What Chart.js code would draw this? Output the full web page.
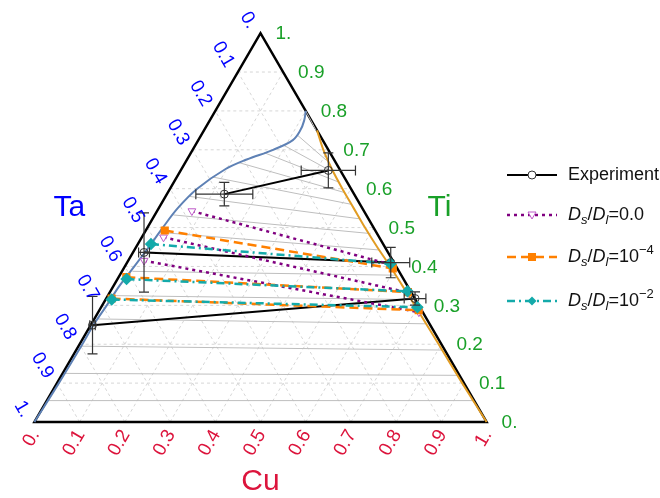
<!DOCTYPE html>
<html>
<head>
<meta charset="utf-8">
<script src="https://cdn.jsdelivr.net/npm/chart.js@4.4.1/dist/chart.umd.min.js"></script>
<style>
  body { margin: 0; background: #fff; }
  #wrap { width: 660px; height: 498px; position: relative; }
</style>
</head>
<body>
<div id="wrap"><canvas id="tern"></canvas></div>
<script>
/*_____________________DATA (fractions, Ta = 1 - Cu - Ti)____________________*/

const tickVals = [0, 0.1, 0.2, 0.3, 0.4, 0.5, 0.6, 0.7, 0.8, 0.9, 1];
const tickText = ['0.', '0.1', '0.2', '0.3', '0.4', '0.5', '0.6', '0.7', '0.8', '0.9', '1.'];

// blue curve (liquid side)
const liqTi = [0, 0.1, 0.2, 0.25, 0.3, 0.35, 0.4, 0.45, 0.5, 0.55, 0.6, 0.65, 0.675, 0.7, 0.725, 0.75, 0.775, 0.8];
const liqCu = [0, 0.004, 0.006, 0.006, 0.010, 0.013, 0.021, 0.028, 0.034, 0.042, 0.060, 0.097, 0.132, 0.178, 0.209, 0.213, 0.209, 0.200];

// orange curve (solid side)
const solTi = [0.75, 0.7, 0.65, 0.6, 0.55, 0.5, 0.45, 0.4, 0.35, 0.3, 0.2, 0.1, 0];
const solCu = [0.25, 0.289, 0.333, 0.381, 0.431, 0.481, 0.533, 0.587, 0.639, 0.691, 0.794, 0.896, 1];

// gray tie-lines, left end on liquid curve, right end on solid curve
const tieLTi = [0.8, 0.7375, 0.71, 0.6925, 0.6675, 0.63, 0.58, 0.5325, 0.4875, 0.4375, 0.3875, 0.325, 0.265, 0.195, 0.125, 0.055];
const tieLCu = [0.2, 0.213, 0.199, 0.162, 0.117, 0.079, 0.054, 0.041, 0.035, 0.028, 0.023, 0.011, 0.006, 0.006, 0.005, 0.003];
const tieRTi = [0.75, 0.6725, 0.6425, 0.6175, 0.59, 0.56, 0.5225, 0.485, 0.4425, 0.4125, 0.3775, 0.315, 0.2525, 0.185, 0.12, 0.055];
const tieRCu = [0.248, 0.31, 0.339, 0.363, 0.391, 0.42, 0.458, 0.497, 0.54, 0.572, 0.61, 0.674, 0.739, 0.809, 0.876, 0.943];

// experiment tie-lines + error bars
const expLTi = [0.586, 0.436, 0.249];
const expLCu = [0.127, 0.0244, 0.004];
const expRTi = [0.647, 0.41, 0.3175];
const expRCu = [0.3265, 0.583, 0.683];
const expLErrCu = [0.063, 0.012, 0.006];
const expLErrTi = [0.03, 0.102, 0.074];
const expRErrCu = [0.06, 0.042, 0.024];
const expRErrTi = [0.045, 0.039, 0.017];

// Ds/Dl = 0.0
const d0LTi = [0.5425, 0.475, 0.415];
const d0LCu = [0.077, 0.048, 0.035];
const d0RTi = [0.405, 0.3325, 0.2825];
const d0RCu = [0.585, 0.661, 0.709];

// Ds/Dl = 1e-4
const d4LTi = [0.4925, 0.3725, 0.3175];
const d4LCu = [0.042, 0.017, 0.012];
const d4RTi = [0.395, 0.334, 0.2875];
const d4RCu = [0.595, 0.659, 0.706];

// Ds/Dl = 1e-2
const d2LTi = [0.4575, 0.3675, 0.315];
const d2LCu = [0.029, 0.020, 0.0135];
const d2RTi = [0.407, 0.336, 0.295];
const d2RCu = [0.584, 0.657, 0.6995];

/*_____________________HELPERS____________________*/

const R3 = Math.sqrt(3) / 2;
function pt(cu, ti) { return {x: cu + ti / 2, y: ti * R3}; }
function curve(cu, ti) { return ti.map((t, i) => pt(cu[i], t)); }
function pairs(lcu, lti, rcu, rti) {
  const out = [];
  lti.forEach((t, i) => { out.push(pt(lcu[i], t), pt(rcu[i], rti[i]), {x: null, y: null}); });
  return out;
}

const BLUE = 'rgb(94,129,181)', GOLD = 'rgb(225,156,36)';
const PURPLE = 'rgb(128,0,128)', PURPLE_M = 'rgb(190,90,200)';
const ORANGE = 'rgb(255,128,0)', TEAL = 'rgb(20,170,170)';
const CU_COL = 'rgb(220,20,60)', TI_COL = 'rgb(25,160,40)', TA_COL = 'rgb(0,0,255)';
const FONT = '"Liberation Sans", Arial, sans-serif';

/*_____________________PLUGIN: grid, edges, labels, legend____________________*/

const ternPlugin = {
  id: 'tern',
  beforeDatasetsDraw(chart) {
    const {ctx, scales: {x, y}} = chart;
    const P = (cu, ti) => { const p = pt(cu, ti); return [x.getPixelForValue(p.x), y.getPixelForValue(p.y)]; };
    const seg = (a, b) => { ctx.beginPath(); ctx.moveTo(a[0], a[1]); ctx.lineTo(b[0], b[1]); ctx.stroke(); };
    ctx.save();
    ctx.strokeStyle = '#d6d6d6';
    ctx.lineWidth = 1;
    ctx.setLineDash([3, 3]);
    tickVals.slice(1, -1).forEach(v => {
      seg(P(0, v), P(1 - v, v));      // Ti = v
      seg(P(v, 0), P(v, 1 - v));      // Cu = v
      seg(P(1 - v, 0), P(0, 1 - v));  // Ta = v
    });
    ctx.setLineDash([]);
    ctx.strokeStyle = '#000';
    ctx.lineWidth = 2.5;
    ctx.lineJoin = 'miter';
    const a = P(0, 0), b = P(1, 0), c = P(0, 1);
    ctx.beginPath(); ctx.moveTo(a[0], a[1]); ctx.lineTo(b[0], b[1]); ctx.lineTo(c[0], c[1]); ctx.closePath(); ctx.stroke();
    ctx.restore();
  },
  afterDatasetsDraw(chart) {
    const {ctx, scales: {x, y}} = chart;
    const P = (cu, ti) => { const p = pt(cu, ti); return [x.getPixelForValue(p.x), y.getPixelForValue(p.y)]; };
    const kx = x.getPixelForValue(1) - x.getPixelForValue(0);
    const ky = y.getPixelForValue(0) - y.getPixelForValue(R3);
    ctx.save();
    ctx.strokeStyle = '#333';
    ctx.lineWidth = 1.2;
    const bar = (cu, ti, ecu, eti) => {
      const [px, py] = P(cu, ti);
      const hx = ecu * kx, hy = eti * ky, cap = 5;
      ctx.beginPath();
      ctx.moveTo(px - hx, py); ctx.lineTo(px + hx, py);
      ctx.moveTo(px - hx, py - cap); ctx.lineTo(px - hx, py + cap);
      ctx.moveTo(px + hx, py - cap); ctx.lineTo(px + hx, py + cap);
      ctx.moveTo(px, py - hy); ctx.lineTo(px, py + hy);
      ctx.moveTo(px - cap, py - hy); ctx.lineTo(px + cap, py - hy);
      ctx.moveTo(px - cap, py + hy); ctx.lineTo(px + cap, py + hy);
      ctx.stroke();
    };
    expLTi.forEach((t, i) => bar(expLCu[i], t, expLErrCu[i], expLErrTi[i]));
    expRTi.forEach((t, i) => bar(expRCu[i], t, expRErrCu[i], expRErrTi[i]));
    ctx.restore();
  },
  afterDraw(chart) {
    const {ctx, scales: {x, y}} = chart;
    const P = (cu, ti) => { const p = pt(cu, ti); return [x.getPixelForValue(p.x), y.getPixelForValue(p.y)]; };
    ctx.save();
    ctx.font = '19px ' + FONT;
    ctx.textBaseline = 'middle';
    tickVals.forEach((v, i) => {
      // Cu along bottom
      let [px, py] = P(v, 0);
      ctx.save(); ctx.fillStyle = CU_COL; ctx.textAlign = 'right';
      ctx.translate(px + 1, py + 9.5); ctx.rotate(-Math.PI / 3);
      ctx.fillText(tickText[i], 0, 0); ctx.restore();
      // Ti along right edge
      [px, py] = P(1 - v, v);
      ctx.fillStyle = TI_COL; ctx.textAlign = 'left';
      ctx.fillText(tickText[i], px + 15, py + 1);
      // Ta along left edge
      [px, py] = P(0, 1 - v);
      ctx.save(); ctx.fillStyle = TA_COL; ctx.textAlign = 'right';
      ctx.translate(px - 8, py - 6); ctx.rotate(Math.PI / 3);
      ctx.fillText(tickText[i], 0, 0); ctx.restore();
    });
    // axis titles
    ctx.font = '30px ' + FONT;
    ctx.textAlign = 'center';
    let m = P(0, 0.5);
    ctx.fillStyle = TA_COL; ctx.fillText('Ta', m[0] - 78, m[1] - 20);
    m = P(0.5, 0.5);
    ctx.fillStyle = TI_COL; ctx.fillText('Ti', m[0] + 66, m[1] - 20);
    m = P(0.5, 0);
    ctx.fillStyle = CU_COL; ctx.fillText('Cu', m[0], m[1] + 60);

    // legend
    const lx0 = 507, lx1 = 557, lm = 532, tx = 568;
    const rows = [175, 215, 257, 301];
    const line = (yy, col, dash, w) => {
      ctx.save(); ctx.strokeStyle = col; ctx.lineWidth = w; ctx.setLineDash(dash);
      ctx.beginPath(); ctx.moveTo(lx0, yy); ctx.lineTo(lx1, yy); ctx.stroke(); ctx.restore();
    };
    line(rows[0], '#000', [], 2);
    ctx.strokeStyle = '#333'; ctx.lineWidth = 1; ctx.fillStyle = '#fff';
    ctx.beginPath(); ctx.arc(lm, rows[0], 4, 0, 2 * Math.PI); ctx.fill(); ctx.stroke();
    line(rows[1], PURPLE, [3, 4], 2.5);
    ctx.strokeStyle = PURPLE_M; ctx.fillStyle = '#fff';
    ctx.beginPath(); ctx.moveTo(lm - 4, rows[1] - 3); ctx.lineTo(lm + 4, rows[1] - 3); ctx.lineTo(lm, rows[1] + 4); ctx.closePath(); ctx.fill(); ctx.stroke();
    line(rows[2], ORANGE, [9, 5], 2.5);
    ctx.fillStyle = ORANGE; ctx.fillRect(lm - 4, rows[2] - 4, 8, 8);
    line(rows[3], TEAL, [8, 4, 2, 4], 2.5);
    ctx.fillStyle = TEAL;
    ctx.beginPath(); ctx.moveTo(lm, rows[3] - 4.5); ctx.lineTo(lm + 4.5, rows[3]); ctx.lineTo(lm, rows[3] + 4.5); ctx.lineTo(lm - 4.5, rows[3]); ctx.closePath(); ctx.fill();

    ctx.textAlign = 'left'; ctx.fillStyle = '#111';
    ctx.font = '18px ' + FONT;
    ctx.fillText('Experiment', tx, rows[0]);
    const ratio = (yy, tail, sup) => {
      let xx = tx;
      const put = (s, font, dy) => { ctx.font = font; ctx.fillText(s, xx, yy + dy); xx += ctx.measureText(s).width; };
      put('D', 'italic 18px ' + FONT, 0);
      put('s', 'italic 13px ' + FONT, 5);
      put('/', '18px ' + FONT, 0);
      put('D', 'italic 18px ' + FONT, 0);
      put('l', 'italic 13px ' + FONT, 5);
      put(tail, '18px ' + FONT, 0);
      if (sup) put(sup, '13px ' + FONT, -7);
    };
    ratio(rows[1], '=0.0');
    ratio(rows[2], '=10', '\u22124');
    ratio(rows[3], '=10', '\u22122');
    ctx.restore();
  }
};

/*_____________________CHART____________________*/

const tern = document.getElementById('tern');
new Chart(tern, {
  type: 'scatter',
  data: {
    datasets: [
      {
        label: 'tie-lines',
        data: pairs(tieLCu, tieLTi, tieRCu, tieRTi),
        showLine: true, spanGaps: false,
        borderColor: 'rgb(190,190,190)', borderWidth: 1,
        pointRadius: 0, order: 10
      },
      {
        label: 'liquid',
        data: curve(liqCu, liqTi),
        showLine: true, tension: 0.35,
        borderColor: BLUE, borderWidth: 2,
        pointRadius: 0, order: 9
      },
      {
        label: 'solid',
        data: curve(solCu, solTi),
        showLine: true, tension: 0.3,
        borderColor: GOLD, borderWidth: 2,
        pointRadius: 0, order: 9
      },
      {
        label: 'Experiment',
        data: pairs(expLCu, expLTi, expRCu, expRTi),
        showLine: true, spanGaps: false,
        borderColor: '#000', borderWidth: 2,
        pointStyle: 'circle', pointRadius: 4,
        pointBorderColor: '#333', pointBorderWidth: 1, pointBackgroundColor: 'rgba(255,255,255,0)',
        order: 5
      },
      {
        label: 'Ds/Dl=0.0',
        data: pairs(d0LCu, d0LTi, d0RCu, d0RTi),
        showLine: true, spanGaps: false,
        borderColor: PURPLE, borderWidth: 2.5, borderDash: [3, 4],
        pointStyle: 'triangle', rotation: 180, pointRadius: 4.5,
        pointBorderColor: PURPLE_M, pointBorderWidth: 1, pointBackgroundColor: '#fff',
        order: 4
      },
      {
        label: 'Ds/Dl=1e-4',
        data: pairs(d4LCu, d4LTi, d4RCu, d4RTi),
        showLine: true, spanGaps: false,
        borderColor: ORANGE, borderWidth: 2.5, borderDash: [9, 5],
        pointStyle: 'rect', pointRadius: 4,
        pointBorderColor: ORANGE, pointBackgroundColor: ORANGE,
        order: 3
      },
      {
        label: 'Ds/Dl=1e-2',
        data: pairs(d2LCu, d2LTi, d2RCu, d2RTi),
        showLine: true, spanGaps: false,
        borderColor: TEAL, borderWidth: 2.5, borderDash: [8, 4, 2, 4],
        pointStyle: 'rectRot', pointRadius: 4.5,
        pointBorderColor: TEAL, pointBackgroundColor: TEAL,
        order: 2
      }
    ]
  },
  options: {
    responsive: true,
    maintainAspectRatio: false,
    animation: false,
    layout: {padding: 0},
    plugins: {
      legend: {display: false},
      tooltip: {enabled: false}
    },
    scales: {
      x: {type: 'linear', display: false, min: -28 / 462, max: 632 / 462},
      y: {type: 'linear', display: false, min: -71 / 462, max: 427 / 462}
    }
  },
  plugins: [ternPlugin]
});
</script>
</body>
</html>
